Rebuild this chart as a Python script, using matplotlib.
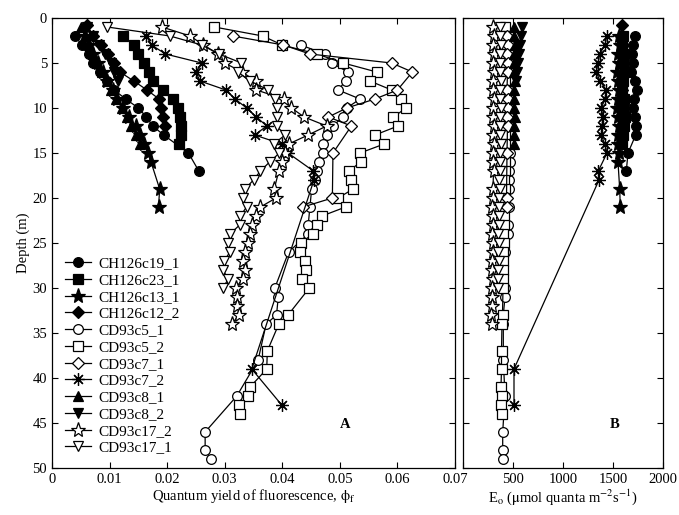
import matplotlib
matplotlib.use("Agg")
import matplotlib.pyplot as plt

plt.rcParams["font.family"] = ["Liberation Serif", "DejaVu Serif"]
plt.rcParams["mathtext.fontset"] = "stix"
plt.rcParams["font.size"] = 10.5

# depth (m), quantum yield phi_f, scalar irradiance E_o for each station
ch19_depth = [2, 3, 4, 5, 6, 7, 8, 9, 10, 11, 12, 13, 15, 17]
ch19_phi = [0.0040, 0.0052, 0.0064, 0.0072, 0.0083, 0.0095, 0.0108, 0.0128,
            0.0150, 0.0164, 0.0175, 0.0194, 0.0237, 0.0255]
ch19_E = [1717, 1700, 1690, 1700, 1680, 1717, 1740, 1710, 1700, 1717, 1727,
          1727, 1650, 1633]

ch23_depth = [2, 3, 4, 5, 6, 7, 8, 9, 10, 11, 12, 13, 14]
ch23_phi = [0.0124, 0.0142, 0.0150, 0.0160, 0.0168, 0.0175, 0.0192, 0.0210,
            0.0218, 0.0222, 0.0224, 0.0224, 0.0221]
ch23_E = [1600, 1590, 1610, 1600, 1620, 1600, 1590, 1610, 1600, 1620, 1610,
          1600, 1590]

ch13_depth = [2, 3, 4, 5, 6, 7, 8, 9, 10, 11, 12, 13, 14, 15, 16, 19, 21]
ch13_phi = [0.0058, 0.0064, 0.0072, 0.0080, 0.0088, 0.0096, 0.0106, 0.0113,
            0.0124, 0.0133, 0.0146, 0.0153, 0.0160, 0.0166, 0.0172, 0.0187,
            0.0185]
ch13_E = [1560, 1570, 1550, 1560, 1540, 1550, 1560, 1550, 1540, 1550, 1560,
          1550, 1550, 1560, 1550, 1567, 1573]

ch12_depth = [0.8, 2, 3, 4, 5, 6, 7, 8, 9, 10, 11, 12]
ch12_phi = [0.0061, 0.0072, 0.0085, 0.0097, 0.0108, 0.0118, 0.0142, 0.0165,
            0.0186, 0.0190, 0.0193, 0.0197]
ch12_E = [1593, 1590, 1600, 1580, 1590, 1600, 1580, 1590, 1600, 1590, 1580,
          1590]

c5_1_depth = [3, 4, 5, 6, 7, 8, 9, 10, 11, 12, 13, 14, 15, 16, 17, 18, 19,
              21, 23, 24, 26, 30, 31, 33, 34, 38, 42, 46, 48, 49]
c5_1_phi = [0.0432, 0.0474, 0.0486, 0.0514, 0.0510, 0.0497, 0.0535, 0.0512,
            0.0505, 0.0488, 0.0477, 0.0471, 0.0470, 0.0464, 0.0460, 0.0456,
            0.0451, 0.0448, 0.0445, 0.0445, 0.0411, 0.0387, 0.0393, 0.0390,
            0.0372, 0.0358, 0.0321, 0.0266, 0.0266, 0.0276]
c5_1_E = [470, 465, 460, 468, 467, 462, 465, 460, 458, 462, 465, 467, 467,
          465, 463, 460, 462, 455, 450, 445, 420, 420, 420, 403, 403, 403,
          420, 397, 397, 397]

c5_2_depth = [1, 2, 3, 4, 5, 6, 7, 8, 9, 10, 11, 12, 13, 14, 15, 16, 17, 18,
              19, 20, 21, 22, 23, 24, 25, 26, 27, 28, 29, 30, 33, 34, 37, 39,
              41, 42, 43, 44]
c5_2_phi = [0.0282, 0.0366, 0.0400, 0.0460, 0.0506, 0.0564, 0.0552, 0.0590,
            0.0607, 0.0615, 0.0593, 0.0601, 0.0561, 0.0577, 0.0535, 0.0536,
            0.0516, 0.0519, 0.0523, 0.0497, 0.0510, 0.0469, 0.0460, 0.0453,
            0.0432, 0.0430, 0.0439, 0.0441, 0.0434, 0.0447, 0.0410, 0.0394,
            0.0374, 0.0373, 0.0344, 0.0341, 0.0324, 0.0327]
c5_2_E = [420, 415, 410, 415, 420, 410, 415, 420, 410, 415, 420, 410, 415,
          420, 410, 415, 420, 410, 415, 410, 405, 410, 405, 400, 405, 400,
          395, 400, 395, 400, 395, 390, 385, 385, 380, 385, 380, 385]

c7_1_depth = [2, 3, 4, 5, 6, 8, 9, 10, 11, 12, 15, 20, 21]
c7_1_phi = [0.0314, 0.0402, 0.0448, 0.0590, 0.0626, 0.0600, 0.0561, 0.0512,
            0.0480, 0.0520, 0.0488, 0.0487, 0.0436]
c7_1_E = [440, 445, 440, 450, 445, 440, 445, 450, 440, 445, 440, 435, 440]

c7_2_depth = [2, 3, 4, 5, 6, 7, 8, 9, 10, 11, 12, 13, 14, 15, 17, 18, 39, 43]
c7_2_phi = [0.0164, 0.0173, 0.0197, 0.0260, 0.0250, 0.0257, 0.0302, 0.0318,
            0.0338, 0.0355, 0.0373, 0.0352, 0.0399, 0.0410, 0.0454, 0.0455,
            0.0347, 0.0399]
c7_2_E = [1437, 1420, 1367, 1350, 1333, 1370, 1433, 1420, 1383, 1400, 1390,
          1383, 1417, 1440, 1353, 1360, 510, 510]

c8_1_depth = [1, 2, 3, 4, 5, 6, 7, 8, 9, 10, 11, 12, 13, 14]
c8_1_phi = [0.0050, 0.0057, 0.0064, 0.0071, 0.0079, 0.0087, 0.0095, 0.0103,
            0.0112, 0.0121, 0.0130, 0.0138, 0.0146, 0.0153]
c8_1_E = [505, 510, 515, 510, 505, 510, 515, 510, 505, 510, 515, 510, 505,
          510]

c8_2_depth = [1, 2, 3, 4, 5, 6, 7]
c8_2_phi = [0.0060, 0.0072, 0.0082, 0.0092, 0.0102, 0.0108, 0.0115]
c8_2_E = [590, 575, 565, 555, 545, 540, 530]

c17_2_depth = [1, 2, 3, 4, 5, 6, 7, 8, 9, 10, 11, 12, 13, 14, 15, 16, 17, 19,
               20, 21, 22, 23, 24, 25, 26, 27, 28, 29, 30, 31, 32, 33, 34]
c17_2_phi = [0.0191, 0.0240, 0.0263, 0.0289, 0.0300, 0.0330, 0.0354, 0.0355,
             0.0403, 0.0416, 0.0438, 0.0477, 0.0445, 0.0411, 0.0405, 0.0400,
             0.0394, 0.0386, 0.0389, 0.0362, 0.0355, 0.0348, 0.0344, 0.0340,
             0.0336, 0.0332, 0.0335, 0.0331, 0.0319, 0.0322, 0.0322, 0.0325,
             0.0312]
c17_2_E = [300, 310, 295, 305, 300, 310, 295, 300, 305, 300, 295, 305, 300,
           310, 300, 295, 305, 300, 295, 290, 300, 295, 290, 300, 295, 290,
           285, 295, 290, 285, 290, 280, 285]

c17_1_depth = [1, 2, 3, 4, 5, 6, 7, 8, 9, 10, 11, 12, 13, 14, 15, 16, 17, 18,
               19, 20, 21, 22, 23, 24, 25, 26, 27, 28, 29, 30]
c17_1_phi = [0.0096, 0.0205, 0.0260, 0.0290, 0.0329, 0.0323, 0.0344, 0.0376,
             0.0387, 0.0390, 0.0390, 0.0390, 0.0405, 0.0385, 0.0395, 0.0378,
             0.0362, 0.0350, 0.0335, 0.0332, 0.0338, 0.0327, 0.0326, 0.0309,
             0.0306, 0.0309, 0.0299, 0.0297, 0.0306, 0.0297]
c17_1_E = [370, 365, 375, 370, 365, 370, 375, 365, 370, 375, 370, 365, 370,
           375, 365, 370, 365, 360, 365, 360, 355, 360, 355, 350, 355, 350,
           355, 350, 345, 350]

series = [
    ("CH126c19_1", ch19_depth, ch19_phi, ch19_E, "o", True, 7),
    ("CH126c23_1", ch23_depth, ch23_phi, ch23_E, "s", True, 6.5),
    ("CH126c13_1", ch13_depth, ch13_phi, ch13_E, "*", True, 11),
    ("CH126c12_2", ch12_depth, ch12_phi, ch12_E, "D", True, 6),
    ("CD93c5_1", c5_1_depth, c5_1_phi, c5_1_E, "o", False, 7),
    ("CD93c5_2", c5_2_depth, c5_2_phi, c5_2_E, "s", False, 6.5),
    ("CD93c7_1", c7_1_depth, c7_1_phi, c7_1_E, "D", False, 6),
    ("CD93c7_2", c7_2_depth, c7_2_phi, c7_2_E, (8, 2, 0), True, 9),
    ("CD93c8_1", c8_1_depth, c8_1_phi, c8_1_E, "^", True, 7.5),
    ("CD93c8_2", c8_2_depth, c8_2_phi, c8_2_E, "v", True, 7.5),
    ("CD93c17_2", c17_2_depth, c17_2_phi, c17_2_E, "*", False, 11),
    ("CD93c17_1", c17_1_depth, c17_1_phi, c17_1_E, "v", False, 7.5),
]

fig = plt.figure(figsize=(6.79, 5.15), dpi=100)
axA = fig.add_axes([52 / 679, 1 - 468 / 515, 403 / 679, 450 / 515])
axB = fig.add_axes([463 / 679, 1 - 468 / 515, 200 / 679, 450 / 515])

for name, depth, phi, E, mk, filled, ms in series:
    style = dict(color="black", marker=mk, markersize=ms, linewidth=0.9,
                 markeredgewidth=0.9, markeredgecolor="black",
                 markerfacecolor="black" if filled else "white")
    axA.plot(phi, depth, label=name, **style)
    axB.plot(E, depth, **style)

for ax in (axA, axB):
    ax.set_ylim(50, 0)
    ax.set_yticks(range(0, 51, 5))
    ax.tick_params(direction="in", top=True, right=True, length=4, width=0.8)
    for sp in ax.spines.values():
        sp.set_linewidth(0.9)

axA.set_xlim(0, 0.07)
axA.set_xticks([0, 0.01, 0.02, 0.03, 0.04, 0.05, 0.06, 0.07])
axA.set_xticklabels(["0", "0.01", "0.02", "0.03", "0.04", "0.05", "0.06",
                     "0.07"])
axA.set_ylabel("Depth (m)", labelpad=2)
axA.set_xlabel(r"Quantum yield of fluorescence, $\mathrm{\phi_f}$", labelpad=1)
axA.text(0.0509, 45.2, "A", fontweight="bold", ha="center", va="center")

axB.set_xlim(0, 2000)
axB.set_xticks([0, 500, 1000, 1500, 2000])
axB.set_xticklabels(["", "500", "1000", "1500", "2000"])
axB.set_yticklabels([])
axB.set_xlabel(r"E$_\mathrm{o}$ ($\mathrm{\mu}$mol quanta m$^{-2}$s$^{-1}$)",
               labelpad=1)
axB.text(1520, 45.2, "B", fontweight="bold", ha="center", va="center")

axA.legend(loc="upper left", bbox_to_anchor=(0.01, 0.49), frameon=False,
           handlelength=1.7, handletextpad=0.5, labelspacing=0.2,
           borderaxespad=0.2, fontsize=11)

fig.savefig("out.png", dpi=100)
